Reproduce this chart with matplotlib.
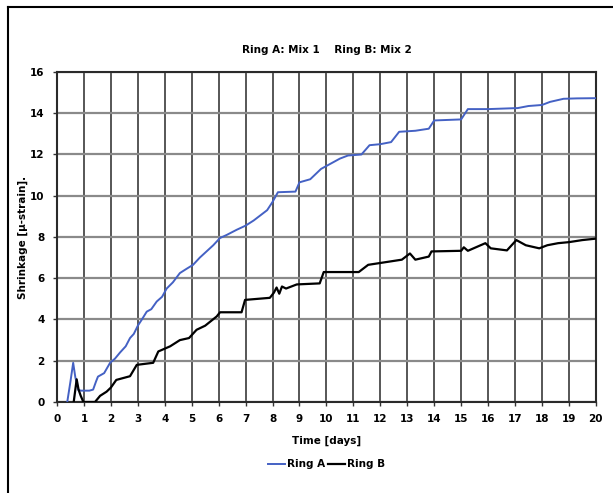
import matplotlib.pyplot as plt
from matplotlib.lines import Line2D

# Ring A (blue)
ring_a_days = [0.38, 0.5, 0.6, 0.68, 0.79, 0.9, 1.2, 1.34, 1.45, 1.52, 1.75, 1.97, 2.15, 2.34,
               2.55, 2.71, 2.85, 3.0, 3.15, 3.33, 3.5, 3.7, 3.9, 4.07, 4.3, 4.56, 4.8, 5.05,
               5.3, 5.55, 5.8, 6.05, 6.3, 6.67, 7.0, 7.3, 7.6, 7.8, 8.0, 8.2, 8.85, 9.0,
               9.4, 9.8, 10.15, 10.5, 10.8, 11.3, 11.6, 12.0, 12.4, 12.7, 13.3, 13.8, 14.0,
               15.0, 15.25, 16.0, 17.1, 17.5, 18.0, 18.3, 18.8, 19.3, 20.0]
ring_a_vals = [0.0, 1.0, 1.9, 1.2, 0.58, 0.55, 0.55, 0.6, 1.0, 1.23, 1.4, 1.9, 2.1, 2.4,
               2.7, 3.1, 3.3, 3.7, 4.0, 4.38, 4.5, 4.87, 5.1, 5.5, 5.8, 6.25, 6.45, 6.65,
               7.0, 7.3, 7.6, 7.95, 8.1, 8.35, 8.55, 8.8, 9.1, 9.3, 9.7, 10.17, 10.2, 10.65,
               10.8, 11.3, 11.55, 11.8, 11.95, 12.0, 12.45, 12.5, 12.6, 13.1, 13.15, 13.25, 13.65,
               13.7, 14.2, 14.2, 14.25, 14.35, 14.4, 14.55, 14.7, 14.72, 14.73]

# Ring B (black)
ring_b_days = [0.62, 0.68, 0.73, 0.8, 0.88, 0.98, 1.41, 1.6, 1.84, 2.0, 2.2, 2.71, 2.96,
               3.57, 3.76, 4.2, 4.56, 4.9, 5.18, 5.5, 5.93, 6.05, 6.85, 6.98, 7.9, 8.05,
               8.15, 8.25, 8.35, 8.5, 8.9, 9.75, 9.9, 11.2, 11.55, 12.8, 13.1, 13.3, 13.8,
               13.9, 15.0, 15.1, 15.25, 15.9, 16.1, 16.7, 17.05, 17.4, 17.9, 18.2, 18.6,
               19.0, 19.5, 20.0]
ring_b_vals = [0.0, 0.6, 1.1, 0.6, 0.3, 0.0, 0.0, 0.3, 0.5, 0.7, 1.07, 1.25, 1.8,
               1.9, 2.45, 2.7, 3.0, 3.1, 3.5, 3.7, 4.15, 4.35, 4.35, 4.95, 5.05, 5.3,
               5.55, 5.25, 5.6, 5.5, 5.7, 5.75, 6.3, 6.3, 6.65, 6.9, 7.2, 6.9, 7.05,
               7.3, 7.33, 7.5, 7.33, 7.7, 7.45, 7.35, 7.85, 7.6, 7.45, 7.6, 7.7,
               7.75, 7.85, 7.92]

x_ticks = list(range(0, 21))
y_ticks = list(range(0, 17, 2))

fig = plt.figure(figsize=(6.13, 4.93), dpi=100)
ax = fig.add_axes([0.093, 0.1846, 0.879, 0.6694])

for x in x_ticks:
    ax.axvline(x, color='#3a3a3a', lw=1.2, zorder=1)
for y in y_ticks:
    ax.axhline(y, color='#8a8a8a', lw=1.6, zorder=1)

ax.plot(ring_a_days, ring_a_vals, color='#4461c4', lw=1.4, label='Ring A', zorder=3)
ax.plot(ring_b_days, ring_b_vals, color='black', lw=1.6, label='Ring B', zorder=3)

ax.set_xlim(0, 20)
ax.set_ylim(0, 16)
ax.set_xticks(x_ticks)
ax.set_yticks(y_ticks)
ax.tick_params(labelsize=7.5, length=3, width=1, color='#333333', pad=6)
for lab in ax.get_xticklabels() + ax.get_yticklabels():
    lab.set_fontweight('bold')
for s in ax.spines.values():
    s.set_color('#2a2a2a')
    s.set_linewidth(1.5)

ax.set_xlabel('Time [days]', fontsize=7.5, fontweight='bold', labelpad=8)
ax.set_ylabel('Shrinkage [\u03bc-strain].', fontsize=7.5, fontweight='bold', labelpad=1)
ax.set_title('Ring A: Mix 1    Ring B: Mix 2', fontsize=7.5, fontweight='bold', pad=14)

ax.legend(loc='upper center', bbox_to_anchor=(0.5, -0.145), ncol=2, frameon=False,
          handlelength=1.6, handletextpad=0.2, columnspacing=0.3,
          prop={'weight': 'bold', 'size': 7.5})

# outer frame (left and top edges)
fig.add_artist(Line2D([8 / 613, 8 / 613], [0, 1 - 7 / 493], transform=fig.transFigure,
                      color='black', lw=1.5))
fig.add_artist(Line2D([8 / 613, 1], [1 - 7 / 493, 1 - 7 / 493], transform=fig.transFigure,
                      color='black', lw=1.5))

fig.savefig('out.png', dpi=100)
